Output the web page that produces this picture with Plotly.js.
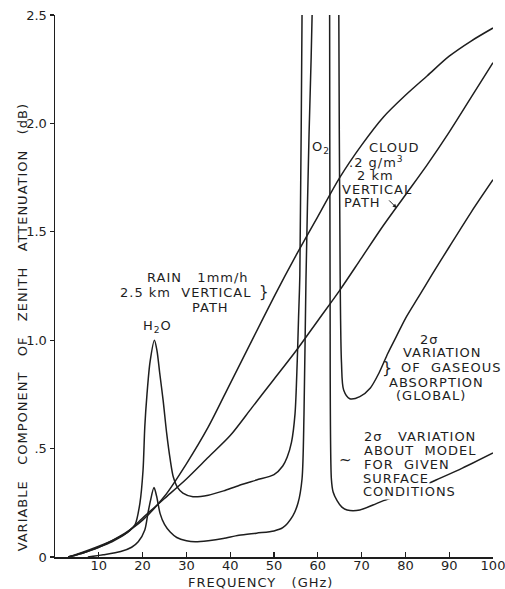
<!DOCTYPE html>
<html>
<head>
<meta charset="utf-8">
<script src="https://cdn.plot.ly/plotly-3.0.1.min.js"></script>
<style>
html,body{margin:0;padding:0;background:#fff;}
#chart{width:505px;height:589px;}
.annotation-text{letter-spacing:1px;}
</style>
</head>
<body>
<div id="chart"></div>
<script>
// Rain 1 mm/h, 2.5 km vertical path
var rainFreq = [3, 5, 8, 10, 13, 16, 20, 25, 30, 35, 40, 45, 50, 55, 60, 65, 70, 75, 80, 85, 90, 95, 100];
var rainAtt  = [0, 0.01, 0.03, 0.045, 0.075, 0.11, 0.17, 0.28, 0.43, 0.6, 0.8, 1.0, 1.2, 1.39, 1.57, 1.75, 1.9, 2.03, 2.13, 2.22, 2.31, 2.38, 2.44];

// Cloud .2 g/m3, 2 km vertical path
var cloudFreq = [3, 5, 8, 10, 13, 16, 20, 25, 30, 35, 40, 45, 50, 55, 60, 65, 70, 75, 80, 85, 90, 95, 100];
var cloudAtt  = [0, 0.01, 0.03, 0.045, 0.07, 0.105, 0.18, 0.27, 0.36, 0.46, 0.56, 0.69, 0.82, 0.95, 1.09, 1.23, 1.38, 1.53, 1.67, 1.81, 1.96, 2.12, 2.28];

// 2 sigma variation of gaseous absorption (global)
var gasFreq = [3, 6, 10, 14, 17, 18.3, 19.4, 20.1, 20.5, 21, 21.7, 22.7, 23.3, 23.9, 24.7, 25.5, 26.3, 27, 28, 29.2, 31.5, 35, 38.5, 42, 46, 50, 52, 53, 54, 54.8, 55.3, 55.6, 55.9, 56.4, 57, 60.5, 64.6, 64.8, 65.1, 65.4, 65.9, 67.3, 69.6, 72, 74, 76, 78, 80, 83, 86, 90, 95, 100];
var gasAtt  = [0, 0.02, 0.05, 0.085, 0.12, 0.15, 0.25, 0.4, 0.6, 0.75, 0.9, 1.0, 0.95, 0.85, 0.72, 0.57, 0.45, 0.37, 0.32, 0.295, 0.278, 0.285, 0.305, 0.33, 0.355, 0.38, 0.42, 0.46, 0.53, 0.66, 0.9, 1.1, 1.3, 2.5, 4, 30, 4, 2.5, 1.3, 0.9, 0.77, 0.73, 0.74, 0.78, 0.85, 0.94, 1.02, 1.1, 1.2, 1.3, 1.43, 1.59, 1.74];

// 2 sigma variation about model for given surface conditions
var modelFreq = [7.5, 11, 15, 17.5, 19, 20.5, 21.2, 21.8, 22.6, 23.2, 24, 25, 26.3, 27.8, 30, 32, 35, 38.4, 42, 46, 50, 52, 54.3, 55.5, 56.4, 56.85, 57.3, 58, 58.7, 59.3, 61, 62.5, 62.7, 62.8, 63.1, 63.5, 64.4, 65.5, 66.7, 69.6, 72.6, 75, 78, 82, 87, 93, 100];
var modelAtt  = [0, 0.01, 0.025, 0.045, 0.07, 0.125, 0.2, 0.26, 0.32, 0.28, 0.2, 0.15, 0.115, 0.09, 0.075, 0.07, 0.075, 0.085, 0.1, 0.11, 0.12, 0.135, 0.19, 0.25, 0.36, 0.66, 1.28, 1.95, 2.5, 4, 30, 4, 2.5, 1.28, 0.36, 0.3, 0.26, 0.23, 0.217, 0.217, 0.24, 0.26, 0.28, 0.31, 0.355, 0.41, 0.48];

var xTickVals = [10, 20, 30, 40, 50, 60, 70, 80, 90, 100];
var xTickText = ['10', '20', '30', '40', '50', '60', '70', '80', '90', '100'];
var yTickVals = [0, 0.5, 1.0, 1.5, 2.0, 2.5];
var yTickText = ['0', '.5', '1.0', '1.5', '2.0', '2.5'];

var ink = '#1e1e1e';
var FONT = 'DejaVu Sans, Liberation Sans, sans-serif';
function line(x, y, name) {
  return {x: x, y: y, name: name, type: 'scatter', mode: 'lines',
          line: {color: ink, width: 1.5, shape: 'spline', smoothing: 0.8},
          hoverinfo: 'skip', cliponaxis: true};
}
var traces = [
  line(rainFreq, rainAtt, 'Rain'),
  line(cloudFreq, cloudAtt, 'Cloud'),
  line(gasFreq, gasAtt, 'Gaseous (global)'),
  line(modelFreq, modelAtt, 'Model')
];

var nb = '\u00A0';
function txt(t, x, y, opts) {
  var a = {text: t, x: x, y: y, xref: 'x', yref: 'y', showarrow: false,
           font: {family: FONT, size: 13, color: ink}, xanchor: 'center', yanchor: 'middle'};
  if (opts) for (var k in opts) a[k] = opts[k];
  return a;
}
var gap3 = nb + nb + nb;
var annotations = [
  txt('H<sub>2</sub>O', 23.5, 1.061),
  txt('O<sub>2</sub>', 60.7, 1.891),
  txt('RAIN' + gap3 + '1mm/h', 32.6, 1.287),
  txt('2.5 km' + nb + nb + 'VERTICAL', 29.9, 1.218),
  txt('PATH', 35.6, 1.153),
  txt('}', 47.9, 1.222, {font: {family: FONT, size: 15, color: ink}}),
  txt('CLOUD', 77.6, 1.891),
  txt('.2 g/m<sup>3</sup>', 73.5, 1.82),
  txt('2 km', 73.1, 1.758),
  txt('VERTICAL', 73.5, 1.693),
  txt('PATH', 70.1, 1.633),
  {text: '', x: 78.0, y: 1.61, xref: 'x', yref: 'y', showarrow: true, ax: -9, ay: -9,
   arrowhead: 2, arrowsize: 0.8, arrowwidth: 1, arrowcolor: ink},
  txt('2σ', 85.6, 1.001),
  txt('VARIATION', 88.4, 0.941),
  txt('OF' + nb + nb + 'GASEOUS', 90.4, 0.876),
  txt('ABSORPTION', 87.0, 0.807),
  txt('(GLOBAL)', 85.8, 0.747),
  txt('}', 76.0, 0.876, {font: {family: FONT, size: 16, color: ink}}),
  txt('2σ' + gap3 + 'VARIATION', 70.1, 0.555, {xanchor: 'left'}),
  txt('ABOUT' + nb + nb + 'MODEL', 70.1, 0.49, {xanchor: 'left'}),
  txt('FOR' + nb + nb + 'GIVEN', 70.1, 0.427, {xanchor: 'left'}),
  txt('CONDITIONS', 70.1, 0.300, {xanchor: 'left', bgcolor: '#ffffff', borderpad: 0}),
  txt('SURFACE', 70.1, 0.364, {xanchor: 'left', bgcolor: '#ffffff', borderpad: 0}),
  txt('~', 66.4, 0.447, {font: {family: FONT, size: 15, color: ink}}),
  {text: 'FREQUENCY' + gap3 + '(GHz)', xref: 'paper', yref: 'paper', x: 0.47, y: -0.047,
   showarrow: false, xanchor: 'center', yanchor: 'middle', font: {family: FONT, size: 13, color: ink}},
  {text: 'VARIABLE' + gap3 + 'COMPONENT' + gap3 + 'OF' + gap3 + 'ZENITH' + gap3 + 'ATTENUATION' + gap3 + '(dB)',
   xref: 'paper', yref: 'paper', x: -0.075, y: 0.424, textangle: -90,
   showarrow: false, xanchor: 'center', yanchor: 'middle', font: {family: FONT, size: 13, color: ink}}
];

var layout = {
  width: 505, height: 589,
  margin: {l: 55, r: 12, t: 15, b: 32, pad: 0},
  paper_bgcolor: '#ffffff', plot_bgcolor: '#ffffff',
  showlegend: false,
  font: {family: FONT, size: 13, color: ink},
  xaxis: {range: [0, 100], tickvals: xTickVals, ticktext: xTickText, showgrid: false, zeroline: false,
          showline: true, linecolor: ink, linewidth: 1.5, ticks: 'inside', ticklen: 5, tickwidth: 1.2, tickcolor: ink,
          tickfont: {family: FONT, size: 13, color: ink}, ticklabelstandoff: -4, ticklabeloverflow: 'allow',
          fixedrange: true},
  yaxis: {range: [0, 2.5], tickvals: yTickVals, ticktext: yTickText, showgrid: false, zeroline: false,
          showline: true, linecolor: ink, linewidth: 1.5, ticks: 'outside', ticklen: 4, tickwidth: 1.2, tickcolor: ink,
          tickfont: {family: FONT, size: 13, color: ink}, fixedrange: true},
  annotations: annotations
};
Plotly.newPlot('chart', traces, layout, {staticPlot: true, displayModeBar: false});
</script>
</body>
</html>
